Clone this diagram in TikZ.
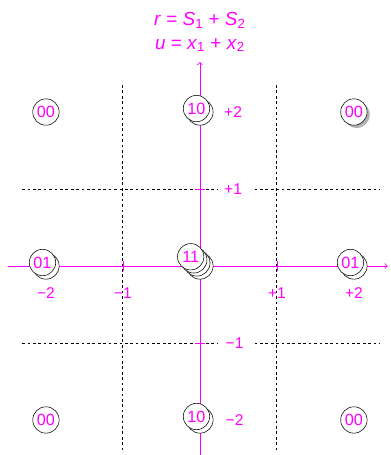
\documentclass[tikz,border=0pt]{standalone}
\usepackage{fontspec}
\setmainfont{Liberation Sans}
\usetikzlibrary{shapes,calc,shadows}
\definecolor{mag}{RGB}{255,0,255}

\begin{document}
\begin{tikzpicture}[x=2cm,y=2cm,
    vtx/.style={circle,draw,fill=white,minimum size=19.5pt,inner sep=0pt,
      text=mag,font=\fontsize{12}{12}\selectfont},
    gridln/.style={dash pattern=on 2pt off 2pt,line width=0.7pt},
    axis/.style={mag,line width=0.6pt},
    lbl/.style={text=mag,font=\fontsize{11.5}{12}\selectfont},
    ttl/.style={text=mag,font=\fontsize{14}{15}\selectfont}]
  \useasboundingbox (-2.597,-2.455) rectangle (2.481,3.455);
  % dashed grid
  \draw[gridln] (-1,2.35) -- (-1,-2.4);
  \draw[gridln] (1,2.35) -- (1,-2.4);
  \draw[gridln] (-2.31,1) -- (0.23,1) (0.71,1) -- (2.34,1);
  \draw[gridln] (-2.31,-1) -- (0.23,-1) (0.71,-1) -- (2.34,-1);
  % axes
  \coordinate (xl) at (-2.49,0);
  \coordinate (xr) at (2.44,0);
  \coordinate (yb) at (0,-2.455);
  \coordinate (yt) at (0,2.65);
  \draw[axis,->] (xl) -- (xr);
  \draw[axis,->] (yb) -- (yt);
  \foreach \v in {-1,1} {
    \draw[axis] (\v,-0.06) -- (\v,0.06);
    \draw[axis] (-0.06,\v) -- (0.06,\v);
  }
  \node[ttl] (tu) at (0,2.87) {\textit{u} = \textit{x}\textsubscript{1} + \textit{x}\textsubscript{2}};
  \node[ttl] (tr) at (0,3.19) {\textit{r} = \textit{S}\textsubscript{1} + \textit{S}\textsubscript{2}};
  % tick labels
  \node[lbl] (xm2) at (-2,-0.35) {−2};
  \node[lbl] (xm1) at (-1,-0.35) {−1};
  \node[lbl] (xp1) at (1,-0.35) {+1};
  \node[lbl] (xp2) at (2,-0.35) {+2};
  \node[lbl] (yp2) at (0.43,2) {+2};
  \node[lbl] (yp1) at (0.43,1) {+1};
  \node[lbl] (ym1) at (0.45,-1) {−1};
  \node[lbl] (ym2) at (0.45,-2) {−2};
  % corner points
  \node[vtx] (a00) at (-2,2) {00};
  \node[vtx,drop shadow={fill=gray,opacity=0.6,shadow xshift=2pt,shadow yshift=-2pt}] (b00) at (2,2) {00};
  \node[vtx] (c00) at (-2,-2) {00};
  \node[vtx] (d00) at (2,-2) {00};
  % stacked points
  \node[vtx] (t10b) at (0,2) {};
  \node[vtx] (t10) at (-0.045,2.045) {10};
  \node[vtx] (b10b) at (0,-2) {};
  \node[vtx] (b10) at (-0.045,-1.955) {10};
  \node[vtx] (l01b) at (-2,0) {};
  \node[vtx] (l01) at (-2.045,0.045) {01};
  \node[vtx] (r01b) at (2,0) {};
  \node[vtx] (r01) at (1.955,0.045) {01};
  \foreach \k in {0,1,2}
    \node[vtx] (c11-\k) at ({-0.04*\k},{0.04*\k}) {};
  \node[vtx] (c11) at (-0.12,0.12) {11};
\end{tikzpicture}
\end{document}
